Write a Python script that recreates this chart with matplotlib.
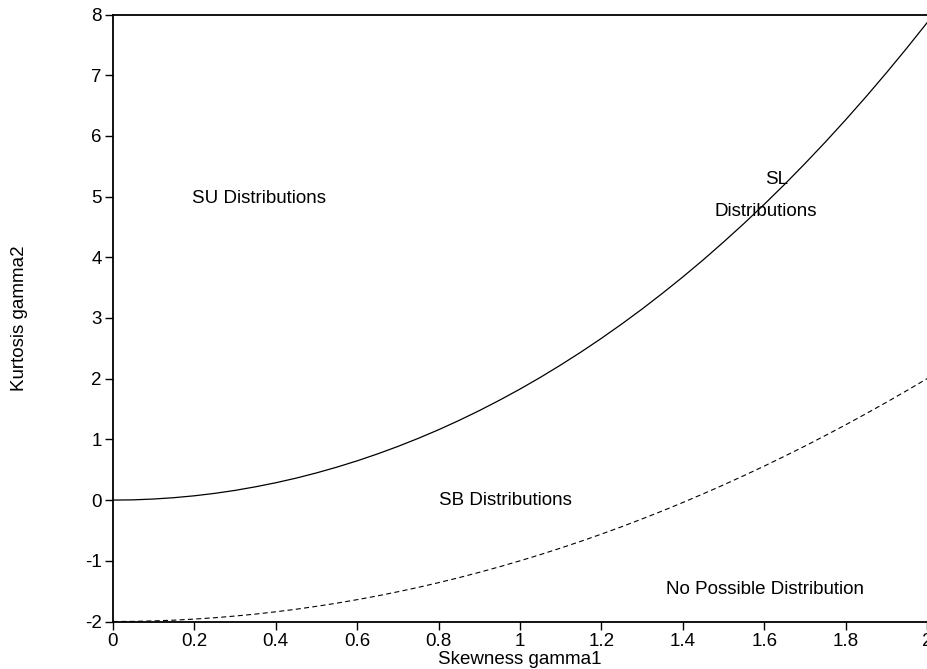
import numpy as np
import matplotlib
matplotlib.use("Agg")
import matplotlib.pyplot as plt

plt.rcParams["font.family"] = ["Liberation Sans", "DejaVu Sans"]
plt.rcParams["axes.unicode_minus"] = False

# skewness values read along the x axis
skew = [0.0, 0.05, 0.1, 0.15, 0.2, 0.25, 0.3, 0.35, 0.4, 0.45, 0.5,
        0.55, 0.6, 0.65, 0.7, 0.75, 0.8, 0.85, 0.9, 0.95, 1.0,
        1.05, 1.1, 1.15, 1.2, 1.25, 1.3, 1.35, 1.4, 1.45, 1.5,
        1.55, 1.6, 1.65, 1.7, 1.75, 1.8, 1.85, 1.9, 1.95, 2.0]

# SL (lognormal) boundary, solid line
kurt_sl = [0.0, 0.004, 0.018, 0.040, 0.071, 0.111, 0.160, 0.219, 0.286, 0.362, 0.448,
           0.543, 0.647, 0.761, 0.884, 1.017, 1.159, 1.312, 1.474, 1.647, 1.829,
           2.022, 2.226, 2.440, 2.665, 2.901, 3.148, 3.407, 3.676, 3.957, 4.251,
           4.555, 4.872, 5.201, 5.543, 5.897, 6.264, 6.644, 7.037, 7.443, 7.863]

# lower limit (no distribution below), dashed line
kurt_min = [-2.0, -1.998, -1.99, -1.978, -1.96, -1.938, -1.91, -1.878, -1.84, -1.798, -1.75,
            -1.698, -1.64, -1.578, -1.51, -1.438, -1.36, -1.278, -1.19, -1.098, -1.0,
            -0.898, -0.79, -0.678, -0.56, -0.438, -0.31, -0.178, -0.04, 0.103, 0.25,
            0.403, 0.56, 0.723, 0.89, 1.063, 1.24, 1.423, 1.61, 1.803, 2.0]

region_labels = [
    ("SU Distributions", 0.194, 4.97),
    ("SL", 1.602, 5.28),
    ("Distributions", 1.477, 4.76),
    ("SB Distributions", 0.801, -0.01),
    ("No Possible Distribution", 1.359, -1.47),
]

W, H = 927, 669
fig = plt.figure(figsize=(W / 100, H / 100), dpi=100)
ax = fig.add_axes([113 / W, (H - 621.5) / H, (W - 113) / W, (621.5 - 14.5) / H])

ax.plot(skew, kurt_sl, color="black", lw=0.9)
ax.plot(skew, kurt_min, color="black", lw=0.8, ls=(0, (4.5, 3)))

for txt, x, y in region_labels:
    ax.text(x, y, txt, fontsize=13.5, ha="left", va="center")

ax.set_xlim(0, 2)
ax.set_ylim(-2, 8)
ax.set_xticks(np.arange(0, 2.01, 0.2))
ax.set_xticklabels(["0", "0.2", "0.4", "0.6", "0.8", "1", "1.2", "1.4", "1.6", "1.8", "2"])
ax.set_yticks(range(-2, 9))
ax.tick_params(direction="out", length=6, width=1, labelsize=13.5, pad=2)

ax.spines["right"].set_visible(False)
for side in ("left", "bottom", "top"):
    ax.spines[side].set_linewidth(1.3)

ax.set_xlabel("Skewness gamma1", fontsize=13.5)
ax.set_ylabel("Kurtosis gamma2", fontsize=13.5)
ax.xaxis.set_label_coords(0.5, -(660 - 621.5) / 607)
ax.xaxis.label.set_va("center")
ax.yaxis.set_label_coords(-(113 - 20) / 814, 0.5)
ax.yaxis.label.set_va("center")

fig.savefig("out.png", dpi=100)
